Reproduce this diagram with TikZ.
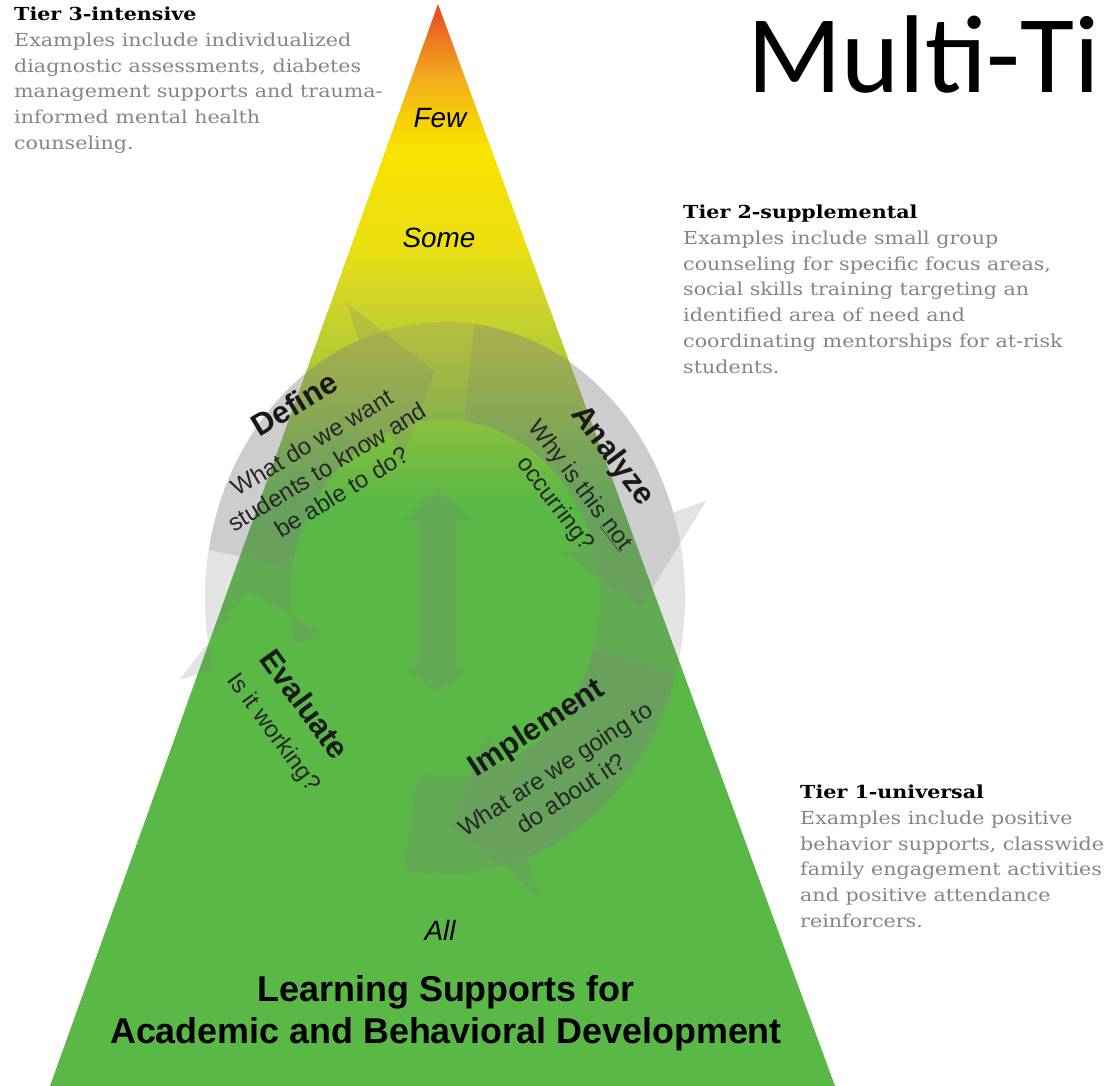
\documentclass[tikz,border=0pt]{standalone}
\usepackage{fontspec}
\setmainfont{Liberation Sans}
\newfontfamily\slabfont[FakeStretch=1.15]{DejaVu Serif}
\newfontfamily\headfont{Carlito}
\usepackage{tikz}
\usetikzlibrary{calc}
\definecolor{pyrgreen}{HTML}{5AB847}
\definecolor{pyrgreenb}{HTML}{78BC40}
\definecolor{pyrlime}{HTML}{98C438}
\definecolor{pyrlimeb}{HTML}{B8CC30}
\definecolor{pyrchartreuse}{HTML}{D0D428}
\definecolor{pyryellowa}{HTML}{EDE010}
\definecolor{pyryellow}{HTML}{F8E200}
\definecolor{pyrgold}{HTML}{F6CF08}
\definecolor{pyrorange}{HTML}{F3AE1C}
\definecolor{pyrorangeb}{HTML}{EE7A20}
\definecolor{pyrred}{HTML}{E4451E}
\definecolor{tiergray}{HTML}{858585}
% bottom to top, 25bp = base of the pyramid, 75bp = apex
\pgfdeclareverticalshading{pyramid}{100bp}{color(0bp)=(pyrgreen); color(25bp)=(pyrgreen);
  color(52bp)=(pyrgreen); color(54.4bp)=(pyrgreenb); color(56.7bp)=(pyrlime); color(59bp)=(pyrlimeb);
  color(61.3bp)=(pyrchartreuse); color(64.1bp)=(pyryellowa); color(68.3bp)=(pyryellow);
  color(69.7bp)=(pyrgold); color(71.5bp)=(pyrorange); color(73.3bp)=(pyrorangeb);
  color(75bp)=(pyrred); color(100bp)=(pyrred)}
\tikzset{
  % Grey see-through bands for the problem solving cycle
  band/.style={fill=gray,fill opacity=0.22},
  stage title/.style={font=\fontsize{31}{34}\selectfont\bfseries,text=black!90,inner sep=0},
  stage text/.style={font=\fontsize{24}{29}\selectfont,text=black!85,align=center,inner sep=0},
  tier text/.style={font=\slabfont\fontsize{18}{25.8}\selectfont,text=tiergray,align=left,inner sep=0,anchor=north west},
  level label/.style={font=\fontsize{28}{30}\selectfont\itshape,inner sep=0}
}
% curved band with head: start angle, end angle, tip angle (clockwise)
\newcommand{\bandarrow}[3]{%
  \fill[band] (#1:240) arc[start angle=#1,end angle=#2,radius=240]
    -- (#2:275) -- (#3:197) -- (#2:125) -- (#2:155)
    arc[start angle=#2,end angle=#1,radius=155] -- cycle;
}

\begin{document}
\begin{tikzpicture}[x=1bp,y=1bp]
  \useasboundingbox (0,0) rectangle (1108,1086);
  % The pyramid
  \coordinate (apex) at (438,1082);
  \coordinate (baseL) at (50,0);
  \coordinate (baseR) at (835,0);
  \shade[shading=pyramid] (baseL) -- (apex) -- (baseR) -- cycle;
  % The cycle
  \coordinate (cc) at (445,488);
  \begin{scope}[shift={(cc)},yscale=1.15]
    \bandarrow{170}{111}{93}
    \bandarrow{83}{18}{-2}
    \bandarrow{-16}{-70}{-88}
    \bandarrow{-100}{195}{178}
  \end{scope}
  % up and down arrow in the middle
  \coordinate (mid) at (437,496);
  \fill[band] ([shift={(-20,70)}]mid) -- ([shift={(-32,70)}]mid) -- ([shift={(0,103)}]mid)
    -- ([shift={(32,70)}]mid) -- ([shift={(20,70)}]mid) -- ([shift={(20,-77)}]mid)
    -- ([shift={(32,-77)}]mid) -- ([shift={(0,-103)}]mid) -- ([shift={(-32,-77)}]mid)
    -- ([shift={(-20,-77)}]mid) -- cycle;
  % stages
  \node(define)[stage title,rotate=31] at (294,682) {Define};
  \node(defineq)[stage text,rotate=31] at (327,619) {What do we want\\students to know and\\be able to do?};
  \node(analyze)[stage title,rotate=-53] at (612,630) {Analyze};
  \node(analyzeq)[stage text,rotate=-53,font=\fontsize{24}{31}\selectfont] at (567,591) {Why is this \underline{not}\\occurring?};
  \node(implement)[stage title,rotate=33] at (537,357) {Implement};
  \node(implementq)[stage text,rotate=33] at (563,305) {What are we going to\\do about it?};
  \node(evaluate)[stage title,rotate=-54] at (305,382) {Evaluate};
  \node(evaluateq)[stage text,rotate=-54] at (273,353) {Is it working?};
  % levels
  \node(few)[level label] at (440,968) {Few};
  \node(some)[level label] at (439,848) {Some};
  \node(all)[level label] at (440,156) {All};
  \node(base)[font=\fontsize{36}{42}\selectfont\bfseries,align=center,inner sep=0] at (446,73)
    {Learning Supports for\\Academic and Behavioral Development};
  % tiers
  \node(tier3)[tier text] at (14,1079) {{\color{black}\bfseries Tier 3-intensive}\\Examples include individualized\\diagnostic assessments, diabetes\\management supports and trauma-\\informed mental health\\counseling.};
  \node(tier2)[tier text] at (683,881) {{\color{black}\bfseries Tier 2-supplemental}\\Examples include small group\\counseling for specific focus areas,\\social skills training targeting an\\identified area of need and\\coordinating mentorships for at-risk\\students.};
  \node(tier1)[tier text] at (800,301) {{\color{black}\bfseries Tier 1-universal}\\Examples include positive\\behavior supports, classwide\\family engagement activities\\and positive attendance\\reinforcers.};
  % heading
  \node(heading)[font=\headfont\fontsize{111}{116}\selectfont,anchor=base west,inner sep=0] at (747,993) {Multi-Ti};
\end{tikzpicture}
\end{document}
